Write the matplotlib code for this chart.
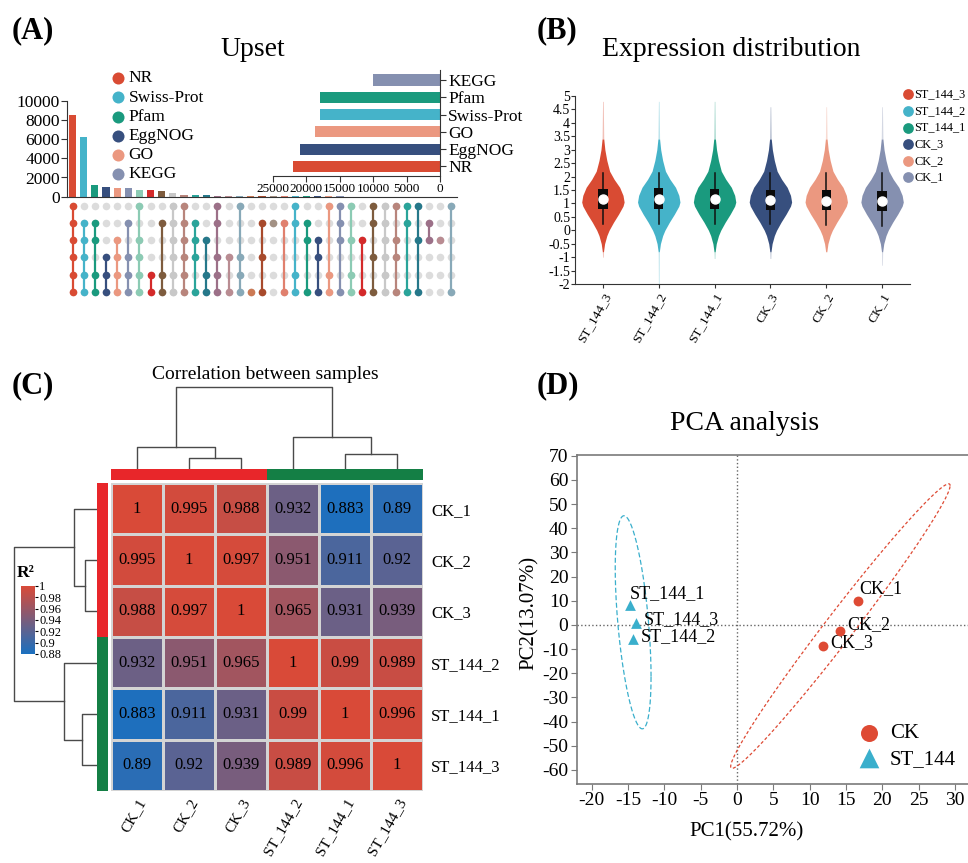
import numpy as np
import matplotlib
matplotlib.use('Agg')
import matplotlib.pyplot as plt
from matplotlib.colors import LinearSegmentedColormap

plt.rcParams['font.family'] = ['Liberation Serif', 'DejaVu Serif']
plt.rcParams['axes.unicode_minus'] = False

# ---------------- DATA ----------------
# Panel A: UpSet
set_names = ['KEGG', 'Pfam', 'Swiss-Prot', 'GO', 'EggNOG', 'NR']   # matrix rows, top -> bottom
set_sizes = [10000, 18000, 18000, 18700, 20900, 22000]
set_colors = ['#8590b0', '#1a9a7e', '#45b3c9', '#eb9880', '#374f7e', '#d94b33']
legend_order = ['NR', 'Swiss-Prot', 'Pfam', 'EggNOG', 'GO', 'KEGG']

inter_sizes = [8500, 6200, 1220, 1010, 940, 940, 680, 670, 560, 350, 180, 150, 150, 100,
               90, 70, 50, 45, 40, 36, 32, 29, 26, 23, 21, 19, 17, 15, 13, 11, 10, 9, 8, 7, 6]
inter_members = [
    [0, 1, 2, 3, 4, 5], [1, 2, 3, 4, 5], [1, 2, 4, 5], [3, 4, 5], [2, 3, 4, 5],
    [1, 3, 4, 5], [0, 2, 3, 4, 5], [4, 5], [1, 4, 5], [0, 1, 2, 3, 4, 5],
    [0, 1, 2, 3, 4, 5], [1, 2, 3, 5], [2, 4, 5], [0, 1, 3, 4, 5], [3, 5],
    [0, 3, 4, 5], [5], [1, 3, 5], [1], [1, 5],
    [0, 1, 4, 5], [1, 2, 5], [2, 3, 5], [0, 4, 5], [0, 1, 2, 5],
    [0, 2, 4, 5], [2, 5], [0, 1, 3, 5], [0, 1, 2, 3, 4, 5], [0, 2, 3, 5],
    [0, 1, 5], [0, 2, 5], [1, 2], [2], [0, 5]]
inter_colors = ['#d94b33', '#45b3c9', '#1a9a7e', '#374f7e', '#eb9880', '#8590b0', '#8ccbb4',
                '#d42a2a', '#7e5c3e', '#c8c8c8', '#b8857c', '#2aa49a', '#26788a', '#9c7088',
                '#b98c92', '#88a9b8', '#cc7a55', '#a84a2c', '#a39184', '#e0806e',
                '#45b3c9', '#1a9a7e', '#374f7e', '#eb9880', '#8590b0', '#8ccbb4', '#d42a2a',
                '#7e5c3e', '#c8c8c8', '#b8857c', '#2aa49a', '#26788a', '#9c7088', '#b98c92',
                '#88a9b8']

# Panel B: expression distribution (violin outline)
vio_samples = ['ST_144_3', 'ST_144_2', 'ST_144_1', 'CK_3', 'CK_2', 'CK_1']
vio_colors = ['#d94b33', '#45b3c9', '#1a9a7e', '#374f7e', '#eb9880', '#8590b0']
prof_y = [-0.8, -0.5, -0.2, 0.0, 0.3, 0.6, 0.9, 1.05, 1.3, 1.6, 1.9, 2.2, 2.6, 3.0, 3.4]
prof_w = [0.01, 0.03, 0.07, 0.11, 0.19, 0.28, 0.36, 0.38, 0.36, 0.30, 0.20, 0.12, 0.07, 0.035, 0.015]
vio_ymin = [-1.0, -2.0, -1.05, -1.05, -0.8, -1.3]
vio_ymax = [4.8, 4.8, 4.8, 4.6, 4.6, 4.6]
box_q1 = [0.80, 0.80, 0.78, 0.76, 0.74, 0.72]
box_q3 = [1.55, 1.57, 1.55, 1.50, 1.50, 1.48]
box_med = [1.15, 1.18, 1.15, 1.12, 1.10, 1.08]
whisk_lo = [0.25, 0.25, 0.22, 0.22, 0.20, 0.15]
whisk_hi = [2.15, 2.15, 2.15, 2.15, 2.15, 2.15]

# Panel C: correlation
hm_labels = ['CK_1', 'CK_2', 'CK_3', 'ST_144_2', 'ST_144_1', 'ST_144_3']
hm_groups = ['CK', 'CK', 'CK', 'ST', 'ST', 'ST']
R = [[1, 0.995, 0.988, 0.932, 0.883, 0.89],
     [0.995, 1, 0.997, 0.951, 0.911, 0.92],
     [0.988, 0.997, 1, 0.965, 0.931, 0.939],
     [0.932, 0.951, 0.965, 1, 0.99, 0.989],
     [0.883, 0.911, 0.931, 0.99, 1, 0.996],
     [0.89, 0.92, 0.939, 0.989, 0.996, 1]]
# linkage: [left, right, height]; new nodes numbered 6, 7, ...
linkage = [[1, 2, 11.5], [4, 5, 15.0], [0, 6, 22.5], [3, 7, 32.5], [8, 9, 83.0]]
cbar_ticks = [0.88, 0.9, 0.92, 0.94, 0.96, 0.98, 1]

# Panel D: PCA
pca_names = ['CK_1', 'CK_2', 'CK_3', 'ST_144_1', 'ST_144_3', 'ST_144_2']
pc1 = [16.7, 14.2, 11.8, -14.7, -13.9, -14.3]
pc2 = [9.9, -2.4, -8.9, 8.3, 1.0, -6.0]
pca_group = ['CK', 'CK', 'CK', 'ST_144', 'ST_144', 'ST_144']
label_off = [(1, 12), (7, 6), (8, 4), (0, 11), (8, 3), (8, 3)]

# ---------------- FIGURE ----------------
W, H = 968, 863
fig = plt.figure(figsize=(W / 100, H / 100), dpi=100)


def pax(x0, y0, x1, y1):
    return fig.add_axes([x0 / W, 1 - y1 / H, (x1 - x0) / W, (y1 - y0) / H])


ov = fig.add_axes([0, 0, 1, 1], zorder=10)
ov.set_xlim(0, W)
ov.set_ylim(H, 0)
ov.axis('off')
ov.patch.set_alpha(0)

SP = '#333333'

# ---------- Panel A ----------
n_int = len(inter_sizes)
xi = np.arange(n_int)
axb = pax(67, 100.7, 457, 196.7)
axb.bar(xi, inter_sizes, width=0.63, color=inter_colors)
axb.set_xlim(-0.5, n_int - 0.5)
axb.set_ylim(0, 10000)
axb.set_yticks([0, 2000, 4000, 6000, 8000, 10000])
axb.set_xticks([])
for s in ['top', 'right']:
    axb.spines[s].set_visible(False)
for s in ['left', 'bottom']:
    axb.spines[s].set_color(SP)
axb.tick_params(axis='y', labelsize=12.5, length=4, pad=1, color=SP)

axm = pax(67, 197, 457, 300.6)
axm.set_xlim(-0.5, n_int - 0.5)
axm.set_ylim(5.5, -0.5)
axm.axis('off')
for j in range(n_int):
    axm.scatter([j] * 6, range(6), s=30, color='#dcdcdc', zorder=1, linewidths=0)
    mem = inter_members[j]
    if len(mem) > 1:
        axm.plot([j, j], [min(mem), max(mem)], color=inter_colors[j], lw=1.6, zorder=2)
    axm.scatter([j] * len(mem), mem, s=30, color=inter_colors[j], zorder=3, linewidths=0)

axs = pax(272.7, 70.5, 440, 176)
axs.patch.set_alpha(0)
axs.barh(range(6), set_sizes, height=0.64, color=set_colors)
axs.set_xlim(25000, 0)
axs.set_ylim(5.55, -0.55)
axs.set_yticks(range(6))
axs.set_yticklabels(set_names)
axs.yaxis.tick_right()
axs.set_xticks([25000, 20000, 15000, 10000, 5000, 0])
for s in ['top', 'left']:
    axs.spines[s].set_visible(False)
for s in ['right', 'bottom']:
    axs.spines[s].set_color(SP)
axs.tick_params(axis='y', labelsize=12.5, length=4, pad=2, color=SP)
axs.tick_params(axis='x', labelsize=9.5, length=4, pad=1, color=SP)

leg_y = [78.3, 97.5, 116.7, 136, 155.2, 174.4]
for k, nm in enumerate(legend_order):
    c = set_colors[set_names.index(nm)]
    ov.scatter(118, leg_y[k], s=75, color=c, linewidths=0)
    ov.text(128.5, leg_y[k], nm, fontsize=12.5, va='center', ha='left')

ov.text(12, 31, '(A)', fontsize=22, fontweight='bold', va='center', ha='left')
ov.text(253, 49, 'Upset', fontsize=20, va='center', ha='center')

# ---------- Panel B ----------
axv = pax(575, 96, 910, 284)
for i in range(6):
    c = vio_colors[i]
    ys = np.array([vio_ymin[i]] + prof_y + [vio_ymax[i]])
    ws = np.array([0.006] + prof_w + [0.006])
    core = slice(1, len(ys) - 1)
    axv.fill_betweenx(ys[core], i - ws[core], i + ws[core], color=c, lw=0, zorder=2)
    axv.fill_betweenx(ys[:2], i - ws[:2], i + ws[:2], color=c, lw=0, alpha=0.35, zorder=2)
    axv.fill_betweenx(ys[-2:], i - ws[-2:], i + ws[-2:], color=c, lw=0, alpha=0.35, zorder=2)
    axv.plot([i, i], [whisk_lo[i], whisk_hi[i]], color='#111111', lw=1.1, zorder=3)
    axv.bar(i, box_q3[i] - box_q1[i], bottom=box_q1[i], width=0.17, color='#0a0a0a', zorder=4)
    axv.plot(i, box_med[i], 'o', color='white', ms=6.5, mec='white', zorder=5)
axv.set_xlim(-0.5, 5.5)
axv.set_ylim(-2, 5)
yt = np.arange(-2, 5.01, 0.5)
axv.set_yticks(yt)
axv.set_yticklabels(['{:g}'.format(v) for v in yt])
axv.set_xticks(range(6))
axv.set_xticklabels(vio_samples, rotation=60, ha='right', rotation_mode='anchor')
for s in ['top', 'right']:
    axv.spines[s].set_visible(False)
for s in ['left', 'bottom']:
    axv.spines[s].set_color(SP)
axv.tick_params(axis='y', labelsize=10, length=3, pad=0.5, color=SP)
axv.tick_params(axis='x', labelsize=9.5, length=3, pad=2, color=SP)

vleg_y = [94.3, 111, 127.6, 144.2, 160.8, 177.4]
for k in range(6):
    ov.scatter(908.3, vleg_y[k], s=60, color=vio_colors[k], linewidths=0)
    ov.text(914.5, vleg_y[k], vio_samples[k], fontsize=8.8, va='center', ha='left')

ov.text(537, 31, '(B)', fontsize=22, fontweight='bold', va='center', ha='left')
ov.text(731, 50, 'Expression distribution', fontsize=20, va='center', ha='center')

# ---------- Panel C ----------
cmap = LinearSegmentedColormap.from_list('r2', ['#1a70c0', '#d94a38'])
Rm = np.array(R)
hm = pax(111, 483, 423, 791)
mesh = hm.pcolormesh(Rm, cmap=cmap, vmin=0.88, vmax=1.0, edgecolors='#d4d4d4', linewidth=0.8)
hm.set_xlim(0, 6)
hm.set_ylim(6, 0)
for i in range(6):
    for j in range(6):
        hm.text(j + 0.5, i + 0.5, '{:g}'.format(Rm[i, j]), ha='center', va='center', fontsize=12)
hm.set_xticks(np.arange(6) + 0.5)
hm.set_xticklabels(hm_labels, rotation=60, ha='right', rotation_mode='anchor', fontsize=11)
hm.set_yticks(np.arange(6) + 0.5)
hm.set_yticklabels(hm_labels, fontsize=12)
hm.yaxis.tick_right()
hm.tick_params(axis='both', length=0)
hm.tick_params(axis='x', pad=4)
hm.tick_params(axis='y', pad=6)
for s in hm.spines.values():
    s.set_visible(False)

grp_col = {'CK': '#e8262a', 'ST': '#147f45'}
gtop = pax(111, 469, 423, 480)
gtop.bar(range(6), [1] * 6, width=1.0, color=[grp_col[g] for g in hm_groups])
gtop.set_xlim(-0.5, 5.5)
gtop.set_ylim(0, 1)
gtop.axis('off')
gleft = pax(97, 483, 108, 791)
gleft.barh(range(6), [1] * 6, height=1.0, color=[grp_col[g] for g in hm_groups])
gleft.set_ylim(5.5, -0.5)
gleft.set_xlim(0, 1)
gleft.axis('off')


def draw_dendro(ax, link, n, orient):
    pos = {i: (float(i), 0.0) for i in range(n)}
    for k, (a, b, h) in enumerate(link):
        xa, ha_ = pos[a]
        xb, hb = pos[b]
        xs = [xa, xa, xb, xb]
        hs = [ha_, h, h, hb]
        if orient == 'top':
            ax.plot(xs, hs, color='#4a4a4a', lw=1.0)
        else:
            ax.plot(hs, xs, color='#4a4a4a', lw=1.0)
        pos[n + k] = ((xa + xb) / 2, h)


dtop = pax(111, 386, 423, 469)
draw_dendro(dtop, linkage, 6, 'top')
dtop.set_xlim(-0.5, 5.5)
dtop.set_ylim(0, 83.6)
dtop.axis('off')
dleft = pax(12, 483, 97, 791)
draw_dendro(dleft, linkage, 6, 'left')
dleft.set_ylim(5.5, -0.5)
dleft.set_xlim(84.5, 0)
dleft.axis('off')

cax = pax(21, 586, 35, 654)
cb = fig.colorbar(mesh, cax=cax, ticks=cbar_ticks)
cb.outline.set_visible(False)
cb.ax.set_yticklabels(['{:g}'.format(v) for v in cbar_ticks])
cb.ax.tick_params(labelsize=9, length=2, pad=1, width=0.8)
ov.text(17, 573, 'R²', fontsize=12.5, fontweight='bold', va='center', ha='left')

ov.text(12, 386, '(C)', fontsize=22, fontweight='bold', va='center', ha='left')
ov.text(265, 374, 'Correlation between samples', fontsize=14, va='center', ha='center')

# ---------- Panel D ----------
axp = pax(576.7, 455, 968, 784)
gcol = {'CK': '#de4a34', 'ST_144': '#3aafcc'}
gmark = {'CK': 'o', 'ST_144': '^'}
pc1a = np.array(pc1)
pc2a = np.array(pc2)
grp = np.array(pca_group)
rad = np.sqrt(2 * 19.0)   # 95% ellipse scale, F(2, n-1) with n=3
tt = np.linspace(0, 2 * np.pi, 300)
for g, ls in [('CK', (0, (2.5, 1.8))), ('ST_144', (0, (4, 2)))]:
    m = grp == g
    pts = np.vstack([pc1a[m], pc2a[m]])
    mu = pts.mean(axis=1)
    cov = np.cov(pts)
    L = np.linalg.cholesky(cov)
    circ = np.vstack([np.cos(tt), np.sin(tt)])
    el = mu[:, None] + rad * L @ circ
    axp.plot(el[0], el[1], color=gcol[g], lw=0.9, linestyle=ls)
    axp.scatter(pc1a[m], pc2a[m], marker=gmark[g], color=gcol[g], s=50 if g == 'CK' else 60,
                linewidths=0, zorder=4)
for k in range(6):
    axp.annotate(pca_names[k], (pc1[k], pc2[k]), xytext=label_off[k], textcoords='offset pixels',
                 fontsize=13, ha='left', va='center')
axp.axvline(0, color='#666666', lw=1.0, ls=':', zorder=1)
axp.axhline(0, color='#666666', lw=1.0, ls=':', zorder=1)
axp.set_xlim(-22.07, 31.8)
axp.set_ylim(-65.8, 70.3)
axp.set_xticks(np.arange(-20, 31, 5))
axp.set_yticks(np.arange(-60, 71, 10))
axp.spines['right'].set_visible(False)
for s in ['left', 'bottom', 'top']:
    axp.spines[s].set_color('#7a7a7a')
    axp.spines[s].set_linewidth(1.2)
axp.tick_params(axis='both', labelsize=14, length=4.5, pad=1.5, color='#7a7a7a')

ov.scatter(869, 733, s=150, color=gcol['CK'], marker='o', linewidths=0)
ov.text(890, 733, 'CK', fontsize=15, va='center', ha='left')
ov.scatter(869, 758, s=200, color=gcol['ST_144'], marker='^', linewidths=0)
ov.text(890, 760, 'ST_144', fontsize=15, va='center', ha='left')

ov.text(746, 832, 'PC1(55.72%)', fontsize=15, va='center', ha='center')
ov.text(529, 613, 'PC2(13.07%)', fontsize=15, va='center', ha='center', rotation=90)
ov.text(537, 386, '(D)', fontsize=22, fontweight='bold', va='center', ha='left')
ov.text(745, 423, 'PCA analysis', fontsize=20, va='center', ha='center')

fig.savefig('out.png', dpi=100)
